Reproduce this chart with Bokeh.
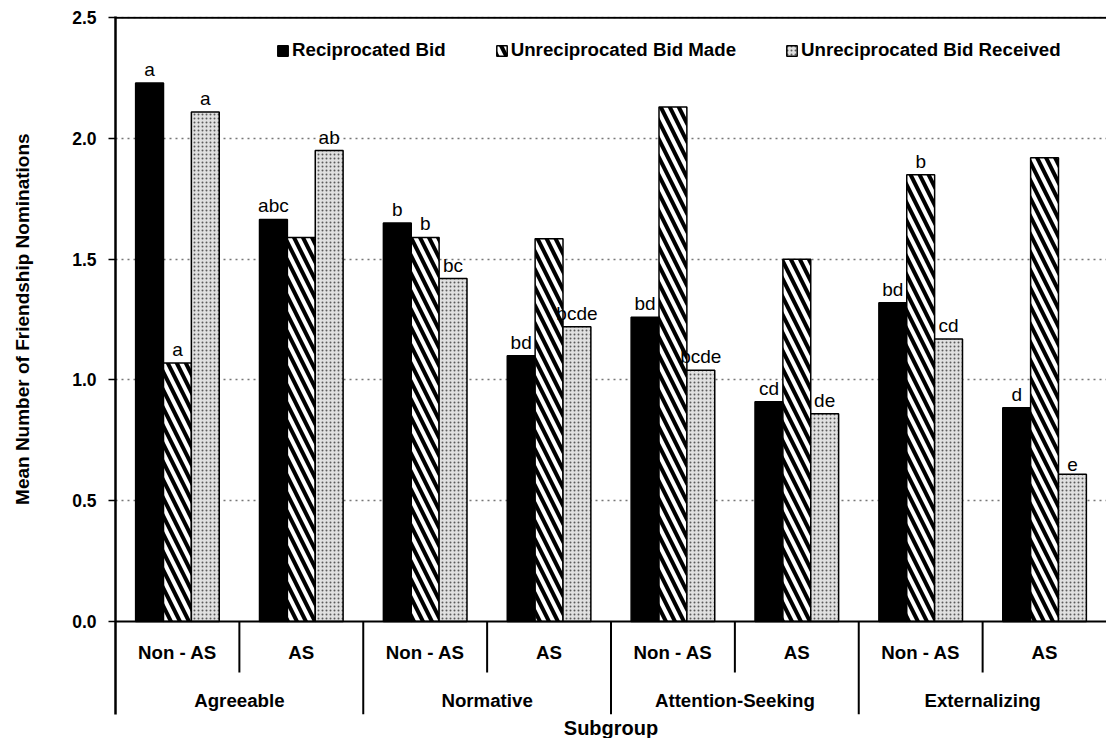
import math
from bokeh.plotting import figure
from bokeh.layouts import row
from bokeh.models import (FactorRange, ColumnDataSource, FixedTicker, Span, Legend,
                          LegendItem, Title, PrintfTickFormatter)
from bokeh.transform import dodge
from bokeh.core.properties import value
from bokeh.embed import file_html
from bokeh.resources import INLINE

# ---------------- data ----------------
groups = ["Agreeable", "Normative", "Attention-Seeking", "Externalizing"]
subgroups = ["Non - AS", "AS"]
series_names = ["Reciprocated Bid", "Unreciprocated Bid Made", "Unreciprocated Bid Received"]

reciprocated = [2.23, 1.665, 1.65, 1.10, 1.26, 0.91, 1.32, 0.885]
unrecip_made = [1.07, 1.59, 1.59, 1.585, 2.13, 1.50, 1.85, 1.92]
unrecip_received = [2.11, 1.95, 1.42, 1.22, 1.04, 0.86, 1.17, 0.61]

letters_recip = ["a", "abc", "b", "bd", "bd", "cd", "bd", "d"]
letters_made = ["a", "", "b", "", "", "", "b", ""]
letters_received = ["a", "ab", "bc", "bcde", "bcde", "de", "cd", "e"]

y_ticks = [0.0, 0.5, 1.0, 1.5, 2.0, 2.5]
y_title = "Mean Number of Friendship Nominations"
x_title = "Subgroup"

# ---------------- setup ----------------
FONT = "Liberation Sans"
W, H = 1106, 738
LEFT_W = 44

factors = [(g, s) for g in groups for s in subgroups]
src = ColumnDataSource(dict(
    x=factors,
    recip=reciprocated, made=unrecip_made, recv=unrecip_received,
    l_recip=letters_recip, l_made=letters_made, l_recv=letters_received,
    sub=[f[1] for f in factors],
))

# narrow strip holding the vertical axis title
lp = figure(width=LEFT_W, height=H, x_range=(0, LEFT_W), y_range=(0, H),
            output_backend="svg", toolbar_location=None, title=None,
            min_border=0)
lp.axis.visible = False
lp.grid.visible = False
lp.outline_line_color = None
lp.text(x=[22], y=[H - 320], text=[y_title], angle=math.pi / 2,
        text_align="center", text_baseline="middle", text_font=value(FONT),
        text_font_style="bold", text_font_size="19px", text_color="black")

Y0 = -0.385
YTOP = 2.505
x_range = FactorRange(*factors, factor_padding=0, group_padding=0, range_padding=0)
p = figure(x_range=x_range, y_range=(Y0, YTOP), width=W - LEFT_W, height=H,
           output_backend="svg", toolbar_location=None, title=None,
           min_border_left=115 - LEFT_W, min_border_top=16, min_border_right=0,
           min_border_bottom=0)
p.outline_line_color = None
p.background_fill_color = "white"

BW = 0.225
common = dict(width=BW, line_color="black", line_width=1.5)
r1 = p.vbar(x=dodge("x", -BW, range=p.x_range), top="recip", bottom=0, source=src,
            fill_color="black", **common)
r2 = p.vbar(x=dodge("x", 0, range=p.x_range), top="made", bottom=0, source=src,
            fill_color="white", hatch_pattern="\\", hatch_color="black",
            hatch_scale=18, hatch_weight=4, **common)
r3 = p.vbar(x=dodge("x", BW, range=p.x_range), top="recv", bottom=0, source=src,
            fill_color="#e0e0e0", hatch_pattern=".", hatch_color="#5a5a5a",
            hatch_scale=4, hatch_weight=1, **common)

# significance letters
for off, col, top in [(-BW, "l_recip", "recip"), (0, "l_made", "made"), (BW, "l_recv", "recv")]:
    p.text(x=dodge("x", off, range=p.x_range), y=top, text=col, source=src,
           text_align="center", text_baseline="bottom", y_offset=-3,
           text_font=value(FONT), text_font_size="19px", text_color="black")

# axis line at zero and top border
p.add_layout(Span(location=0, dimension="width", line_color="black", line_width=2))
p.add_layout(Span(location=2.5, dimension="width", line_color="black", line_width=2))

# category table (inside the frame, below zero)
n = len(factors)
short_x = [i for i in range(1, n) if i % 2 == 1]
long_x = [i for i in range(1, n) if i % 2 == 0]
p.segment(x0=short_x, x1=short_x, y0=[0] * len(short_x), y1=[-0.211] * len(short_x),
          line_color="black", line_width=2)
p.segment(x0=long_x, x1=long_x, y0=[0] * len(long_x), y1=[Y0] * len(long_x),
          line_color="black", line_width=2)
p.text(x="x", y=-0.128, text="sub", source=src, text_align="center",
       text_baseline="middle", text_font=value(FONT), text_font_style="bold",
       text_font_size="18.7px", text_color="black")
p.text(x=groups, y=[-0.327] * len(groups), text=groups, text_align="center",
       text_baseline="middle", text_font=value(FONT), text_font_style="bold",
       text_font_size="18.7px", text_color="black")

# y axis
ya = p.yaxis[0]
ya.ticker = FixedTicker(ticks=y_ticks)
ya.formatter = PrintfTickFormatter(format="%.1f")
ya.axis_line_width = 2.5
ya.axis_line_color = "black"
ya.major_tick_out = 7
ya.major_tick_in = 0
ya.major_tick_line_width = 1.5
ya.minor_tick_line_color = None
ya.major_label_standoff = 12
ya.major_label_text_font = FONT
ya.major_label_text_font_style = "bold"
ya.major_label_text_font_size = "17.5px"
ya.major_label_text_color = "black"

p.xaxis.visible = False
p.xgrid.grid_line_color = None
p.ygrid.ticker = FixedTicker(ticks=[t for t in y_ticks if t > 0])
p.ygrid.grid_line_color = "#777777"
p.ygrid.grid_line_dash = "dotted"
p.ygrid.grid_line_width = 1.5

p.add_layout(Title(text=x_title, align="center", text_font=FONT,
                   text_font_style="bold", text_font_size="20px",
                   text_color="black", standoff=0, offset=0), "below")

legend = Legend(items=[LegendItem(label=series_names[0], renderers=[r1]),
                       LegendItem(label=series_names[1], renderers=[r2]),
                       LegendItem(label=series_names[2], renderers=[r3])],
                orientation="horizontal", location=(161, 653),
                border_line_color=None, background_fill_alpha=0,
                label_text_font=FONT, label_text_font_style="bold",
                label_text_color="black",
                label_text_font_size="18.7px", glyph_width=13, glyph_height=13,
                label_height=22, spacing=49, padding=0, margin=0, label_standoff=3)
p.add_layout(legend)

layout = row(lp, p, spacing=0)
open("out.html", "w").write(file_html(layout, INLINE))
